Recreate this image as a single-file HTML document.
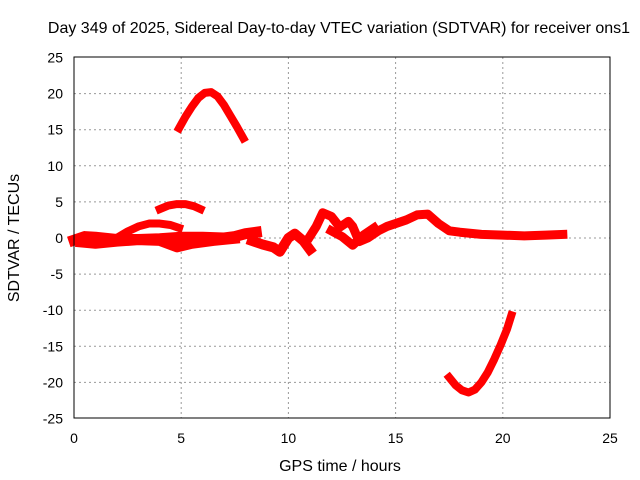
<!DOCTYPE html>
<html><head><meta charset="utf-8"><style>
body{margin:0;background:#fff}
svg{display:block;font-family:"Liberation Sans",sans-serif}
</style></head><body>
<svg id="chart" width="640" height="480">
<rect width="640" height="480" fill="#fff"/>
<text x="339" y="33" text-anchor="middle" font-size="16">Day 349 of 2025, Sidereal Day-to-day VTEC variation (SDTVAR) for receiver ons1</text>
<text x="340" y="471" text-anchor="middle" font-size="16">GPS time / hours</text>
<text transform="translate(19,238) rotate(-90)" text-anchor="middle" font-size="16">SDTVAR / TECUs</text>
<g id="grid"></g>
<g id="ticks"></g>
<g id="series"></g>
<rect x="74" y="57" width="536" height="361" fill="none" stroke="#000" stroke-width="1"/>
</svg>
<script>
const xTicks=[0,5,10,15,20,25];
const yTicks=[25,20,15,10,5,0,-5,-10,-15,-20,-25];
const trackArcHigh=[[4.9,15.2],[5.2,16.8],[5.5,18.2],[5.8,19.4],[6.1,20.1],[6.4,20.2],[6.7,19.6],[7.0,18.4],[7.3,16.9],[7.6,15.4],[7.9,13.8]];
const trackArcLow=[[17.5,-19.3],[17.8,-20.4],[18.1,-21.1],[18.4,-21.4],[18.7,-21.0],[19.0,-20.0],[19.3,-18.6],[19.6,-16.8],[19.9,-14.8],[20.2,-12.6],[20.4,-10.7]];
const trackSmallArc=[[4.0,4.0],[4.4,4.5],[4.8,4.7],[5.2,4.7],[5.6,4.4],[5.9,4.0]];
const trackHump=[[2.1,0.2],[2.5,0.9],[3.0,1.6],[3.5,2.0],[4.0,2.0],[4.5,1.8],[4.9,1.4]];
const trackBase=[[0,-0.3],[0.5,0.2],[1,0.1],[2,-0.2],[3,-0.2],[4,-0.1],[5,0.1],[6,0.1],[7,0],[7.5,0.2],[8,0.6],[8.5,0.8]];
const trackLower=[[0.3,-0.6],[1,-0.8],[2,-0.5],[3,-0.3],[4,-0.4],[4.8,-1.3],[5.5,-0.8],[6.5,-0.4],[7.5,-0.1]];
const trackMid=[[8.3,-0.4],[8.8,-0.9],[9.3,-1.3],[9.6,-1.9],[10,0],[10.3,0.6],[10.7,-0.4],[11,-1.6]];
const trackRight=[[11,0.2],[11.3,1.6],[11.6,3.5],[12,3.0],[12.4,1.5],[12.8,2.3],[13.0,1.6],[13.3,-0.5],[13.7,0],[14.2,1.0],[14.6,1.6],[15,2.0],[15.5,2.5],[16,3.2],[16.5,3.3],[17,2.0],[17.5,1.0],[18,0.8],[19,0.5],[20,0.4],[21,0.3],[22,0.4],[22.8,0.5]];
const trackDip=[[12,1.0],[12.5,0.2],[13,-1.0],[13.5,0.4],[14,1.4]];
const tracks=[trackArcHigh,trackArcLow,trackSmallArc,trackHump,trackBase,trackLower,trackMid,trackRight,trackDip];
const widths=[8,8,8,8,11,10,10,9,9];
const X=t=>74+t/25*536;
const Y=v=>238-v/25*180.5;
const NS="http://www.w3.org/2000/svg";
const grid=document.getElementById('grid'),ticks=document.getElementById('ticks'),ser=document.getElementById('series');
function mk(tag,attrs,parent){const e=document.createElementNS(NS,tag);for(const k in attrs)e.setAttribute(k,attrs[k]);parent.appendChild(e);return e;}
xTicks.forEach(t=>{
  if(t>0&&t<25){const g=mk('line',{x1:X(t),x2:X(t),y1:57,y2:418,stroke:'#999','stroke-dasharray':'2,3'},grid);
  
  }
  const l=mk('text',{x:X(t),y:443,'text-anchor':'middle','font-size':'14'},ticks);l.textContent=t;
  
  
});
yTicks.forEach(v=>{
  if(v>-25&&v<25){const g=mk('line',{x1:74,x2:610,y1:Y(v),y2:Y(v),stroke:'#999','stroke-dasharray':'2,3'},grid);
  
  }
  const l=mk('text',{x:63,y:Y(v)+5,'text-anchor':'end','font-size':'14'},ticks);l.textContent=v;
  
  
});
tracks.forEach((tr,i)=>{
  const p=mk('polyline',{points:tr.map(d=>X(d[0])+','+Y(d[1])).join(' '),fill:'none',stroke:'#f00','stroke-width':widths[i],'stroke-linejoin':'round','stroke-linecap':'square'},ser);
  
  
});
</script>
</body></html>
